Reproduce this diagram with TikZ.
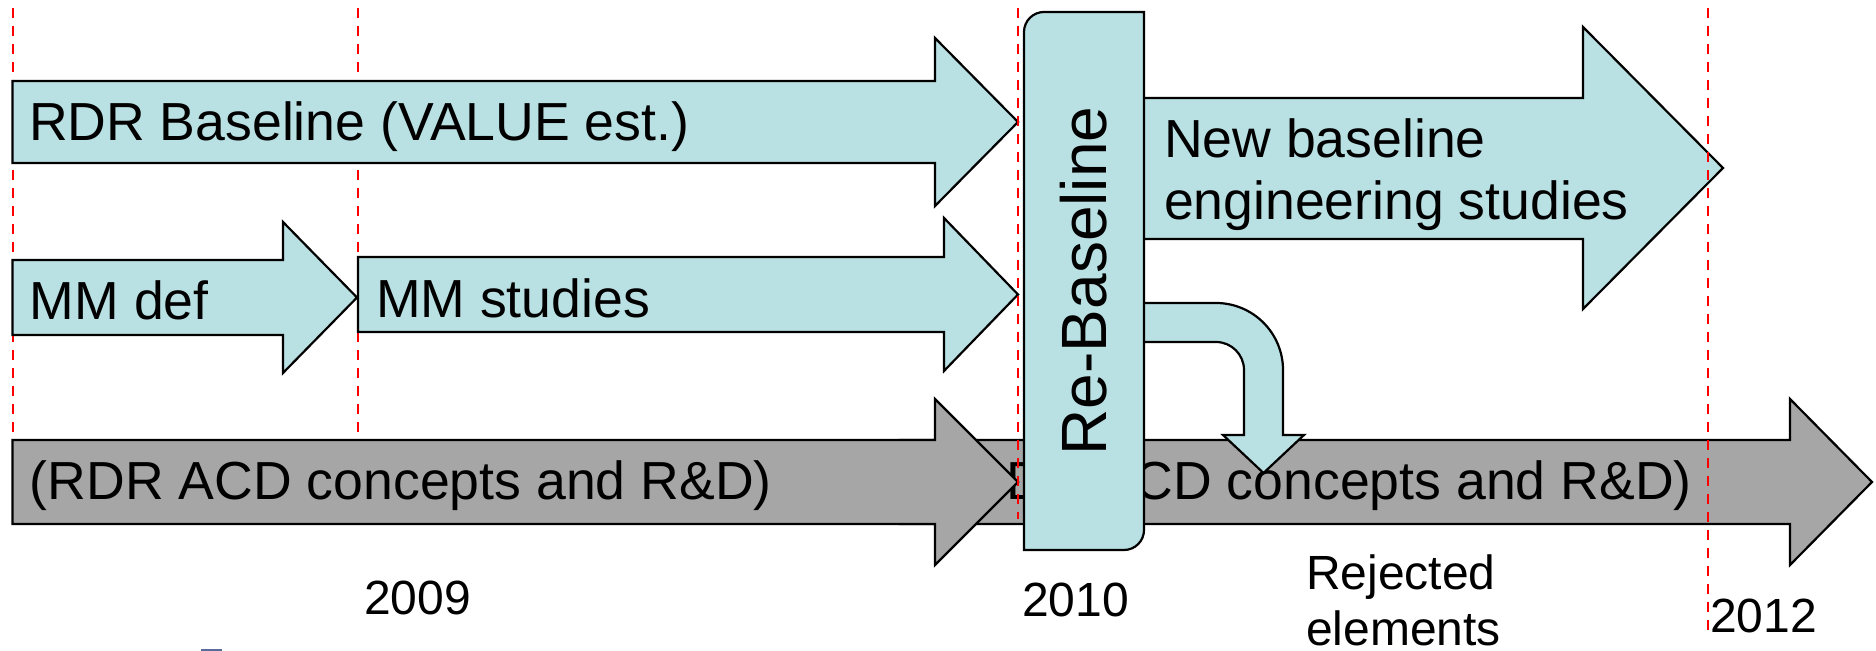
\documentclass[tikz,border=0pt]{standalone}
\usepackage{fontspec}
\setmainfont{Liberation Sans}
\usepackage{xcolor}
\usepackage{tikz}
\definecolor{pale}{HTML}{B9E0E3}
\definecolor{slab}{HTML}{A6A6A6}
\definecolor{mark}{HTML}{FF0000}
\definecolor{stub}{HTML}{5A6B9C}
\tikzset{
  bluebar/.style = {draw=black, fill=pale, line width=1.1pt, line join=miter},
  graybar/.style = {draw=black, fill=slab, line width=1.1pt, line join=miter},
  guide/.style   = {draw=mark, line width=1pt, dash pattern=on 5pt off 4pt},
  lab/.style     = {font=\fontsize{26.8}{31}\selectfont, inner sep=0pt, outer sep=0pt, anchor=base west, align=left},
  year/.style    = {font=\fontsize{24}{28}\selectfont, inner sep=0pt, outer sep=0pt, anchor=base west, align=left},
  turned/.style  = {font=\fontsize{32}{38}\selectfont, inner sep=0pt, outer sep=0pt, rotate=90},
}
\begin{document}
\begin{tikzpicture}[x=0.5pt,y=-0.5pt]
\path[use as bounding box] (0,0) rectangle (1876,651);

% ---- year guides behind the bars -------------------------------------
\draw[guide] (12.5,8) -- (12.5,440);
\draw[guide] (358,8) -- (358,440);

% ---- baseline row -----------------------------------------------------
\draw[bluebar] (12.5,81) -- (935,81) -- (935,38) -- (1018,122) -- (935,206) -- (935,163) -- (12.5,163) -- cycle;
\node[lab] (rdr) at (29,141) {RDR Baseline (VALUE est.)};

% ---- MM row -----------------------------------------------------------
\draw[bluebar] (12.5,260) -- (283,260) -- (283,222) -- (357,297.5) -- (283,373) -- (283,335) -- (12.5,335) -- cycle;
\node[lab] (mmdef) at (30,320) {MM def};
\draw[bluebar] (358,257) -- (944,257) -- (944,218) -- (1018,294.5) -- (944,371) -- (944,332) -- (358,332) -- cycle;
\node[lab] (mmstud) at (376,318) {MM studies};

% ---- R&D row, the later bar runs under the earlier one ----------------
\draw[graybar] (900,440) -- (1790,440) -- (1790,399) -- (1872,482) -- (1790,565) -- (1790,524) -- (900,524) -- cycle;
\node[lab] (acdii) at (950,500) {(RDR ACD concepts and R\&D)};
\draw[graybar] (12.5,440) -- (935,440) -- (935,399) -- (1018,482) -- (935,565) -- (935,524) -- (12.5,524) -- cycle;
\node[lab] (acd) at (30,500) {(RDR ACD concepts and R\&D)};

% ---- after the re-baseline --------------------------------------------
\draw[bluebar] (1140,98) -- (1583,98) -- (1583,27) -- (1723,168) -- (1583,309) -- (1583,239) -- (1140,239) -- cycle;
% base of a two-line node sits on its last line
\node[lab] (newbase) at (1164,220) {New baseline\\engineering studies};

% bent arrow down to the rejected elements
\draw[bluebar] (1140,303) -- (1216,303) arc[start angle=270,end angle=360,radius=67]
  -- (1283,435) -- (1304,435) -- (1263.5,473) -- (1223,435) -- (1244,435) -- (1244,370)
  arc[start angle=0,end angle=-90,radius=28] -- (1140,342) -- cycle;

% ---- year guides over the bars ----------------------------------------
\draw[guide] (1018,8) -- (1018,519);
\draw[guide] (1708,8) -- (1708,635);

% ---- re-baseline block ------------------------------------------------
\draw[bluebar] (1024,550) -- (1024,32) arc[start angle=180,end angle=270,radius=20]
  -- (1144,12) -- (1144,530) arc[start angle=0,end angle=90,radius=20] -- cycle;
\node[turned] (rebase) at (1084,281) {Re-Baseline};

% ---- labels under the bars --------------------------------------------
\node[year] (rej) at (1306,646) {Rejected\\elements};
\node[year] (y2009) at (364,615) {2009};
\node[year] (y2010) at (1022,617) {2010};
\node[year] (y2012) at (1710,633) {2012};

\fill[stub] (201,649) rectangle (222,652);

\end{tikzpicture}
\end{document}
